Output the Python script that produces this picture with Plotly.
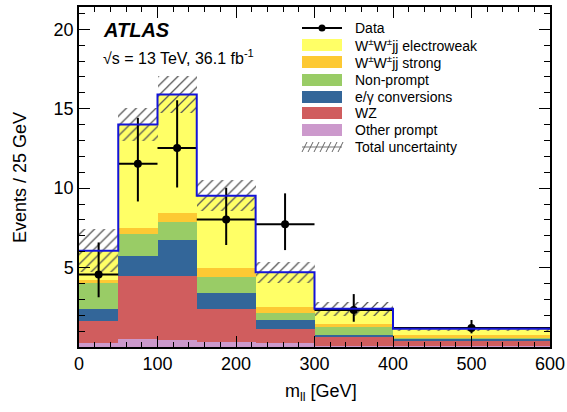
import numpy as np
import plotly.graph_objects as go

# ---- data (Events / 25 GeV) ----
bin_edges = [0, 50, 100, 150, 225, 300, 400, 600]
other_prompt = [0.27, 0.48, 0.44, 0.33, 0.25, 0.08, 0.06]
wz = [1.38, 3.99, 4.03, 2.08, 0.89, 0.53, 0.36]
conversions = [0.72, 1.27, 2.24, 0.97, 0.58, 0.14, 0.06]
non_prompt = [1.63, 1.36, 1.17, 1.04, 0.42, 0.49, 0.13]
wwjj_strong = [0.21, 0.40, 0.57, 0.53, 0.39, 0.21, 0.12]
wwjj_ew = [1.85, 6.50, 7.45, 4.57, 2.17, 0.96, 0.42]
total_unc = [1.36, 1.05, 1.15, 0.98, 0.67, 0.44, 0.12]
data_y = [4.57, 11.53, 12.52, 8.03, 7.72, 2.33, 1.19]
data_hi = [6.58, 14.42, 15.53, 10.02, 9.67, 3.33, 1.70]
data_lo = [3.13, 9.16, 10.04, 6.42, 6.10, 1.59, 0.86]

x_ticks = [0, 100, 200, 300, 400, 500, 600]
y_ticks = [5, 10, 15, 20]
x_range = [0, 600]
y_range = [0, 21.4]

layers = [
    ("Other prompt", other_prompt, "#cc99cc"),
    ("WZ", wz, "#d05d5e"),
    ("e/γ conversions", conversions, "#336699"),
    ("Non-prompt", non_prompt, "#99cc66"),
    ("W<sup>±</sup>W<sup>±</sup>jj strong", wwjj_strong, "#fdc933"),
    ("W<sup>±</sup>W<sup>±</sup>jj electroweak", wwjj_ew, "#ffff66"),
]

edges = np.array(bin_edges, dtype=float)
centers = 0.5 * (edges[:-1] + edges[1:])
widths = np.diff(edges)

FONT = "Liberation Sans, Arial, Helvetica, sans-serif"
fig = go.Figure()

base = np.zeros(len(centers))
for name, vals, col in layers:
    v = np.array(vals)
    fig.add_trace(go.Bar(x=centers, y=v, base=base.copy(), width=widths,
                         marker=dict(color=col, line=dict(width=0)),
                         showlegend=False, hoverinfo="skip"))
    base = base + v
total = base

unc = np.array(total_unc)
fig.add_trace(go.Bar(x=centers, y=2 * unc, base=total - unc, width=widths,
                     marker=dict(color="rgba(0,0,0,0)", line=dict(width=0),
                                 pattern=dict(shape="/", size=7, solidity=0.18,
                                              fgcolor="#555555",
                                              bgcolor="rgba(0,0,0,0)",
                                              fillmode="replace")),
                     showlegend=False, hoverinfo="skip"))

# total (blue outline) drawn on the mirrored axes pair so top/right ticks exist
fig.add_trace(go.Scatter(x=edges, y=list(total) + [total[-1]], mode="lines",
                         xaxis="x2", yaxis="y2",
                         line=dict(color="#1414d8", width=2, shape="hv"),
                         showlegend=False, hoverinfo="skip"))

dy = np.array(data_y)
fig.add_trace(go.Scatter(
    x=centers, y=dy, mode="markers",
    marker=dict(color="black", size=8),
    error_y=dict(type="data", symmetric=False,
                 array=np.array(data_hi) - dy, arrayminus=dy - np.array(data_lo),
                 color="black", thickness=2, width=0),
    error_x=dict(type="data", array=widths / 2, color="black", thickness=2, width=0),
    showlegend=False, hoverinfo="skip"))

# ---- layout geometry (pixels) ----
W, H = 567, 412
L, R, T, B = 79, 550, 7, 347

def px(x):
    return (x - L) / (R - L)

def py(y):
    return (B - y) / (B - T)

shapes = []
annotations = []

# legend
leg_x0, leg_x1, leg_tx = 302, 342, 353
rows = [28, 45, 62, 80, 97, 113, 130, 147]
shapes.append(dict(type="line", xref="paper", yref="paper",
                   x0=px(leg_x0), x1=px(leg_x1), y0=py(rows[0]), y1=py(rows[0]),
                   line=dict(color="black", width=2)))
shapes.append(dict(type="circle", xref="paper", yref="paper",
                   x0=px(322 - 3.5), x1=px(322 + 3.5), y0=py(rows[0] + 3.5), y1=py(rows[0] - 3.5),
                   fillcolor="black", line=dict(color="black", width=0)))
annotations.append(dict(text="Data", x=px(leg_tx), y=py(rows[0]), xref="paper", yref="paper",
                        xanchor="left", yanchor="middle", showarrow=False,
                        font=dict(size=14, color="black", family=FONT)))
for i, (name, vals, col) in enumerate(reversed(layers)):
    yy = rows[i + 1]
    shapes.append(dict(type="rect", xref="paper", yref="paper",
                       x0=px(leg_x0), x1=px(leg_x1), y0=py(yy + 6), y1=py(yy - 6),
                       fillcolor=col, line=dict(width=0)))
    annotations.append(dict(text=name, x=px(leg_tx), y=py(yy), xref="paper", yref="paper",
                            xanchor="left", yanchor="middle", showarrow=False,
                            font=dict(size=14, color="black", family=FONT)))
yy = rows[-1]
shapes.append(dict(type="line", xref="paper", yref="paper",
                   x0=px(leg_x0), x1=px(leg_x1), y0=py(yy), y1=py(yy),
                   line=dict(color="#777777", width=1.2)))
for xs in range(leg_x0, leg_x1 - 3, 6):
    shapes.append(dict(type="line", xref="paper", yref="paper",
                       x0=px(xs), x1=px(xs + 5), y0=py(yy + 5), y1=py(yy - 5),
                       line=dict(color="#666666", width=1)))
annotations.append(dict(text="Total uncertainty", x=px(leg_tx), y=py(yy), xref="paper", yref="paper",
                        xanchor="left", yanchor="middle", showarrow=False,
                        font=dict(size=14, color="black", family=FONT)))

# ATLAS labels
annotations.append(dict(text="<b><i>ATLAS</i></b>", x=px(101), y=py(30), xref="paper", yref="paper",
                        xanchor="left", yanchor="middle", showarrow=False,
                        font=dict(size=20, color="black", family=FONT)))
annotations.append(dict(text="√s = 13 TeV, 36.1 fb<sup>-1</sup>", x=px(101), y=py(57),
                        xref="paper", yref="paper", xanchor="left", yanchor="middle",
                        showarrow=False, font=dict(size=16, color="black", family=FONT)))
# axis titles
annotations.append(dict(text="m<sub>ll</sub> [GeV]", x=px(321), y=py(392), xref="paper", yref="paper",
                        xanchor="center", yanchor="middle", showarrow=False,
                        font=dict(size=18, color="black", family=FONT)))
annotations.append(dict(text="Events / 25 GeV", x=px(20), y=py(178), xref="paper", yref="paper",
                        xanchor="center", yanchor="middle", textangle=-90, showarrow=False,
                        font=dict(size=18, color="black", family=FONT)))

axis_common = dict(showline=True, linecolor="black", linewidth=1.5,
                   ticks="inside", tickcolor="black", tickwidth=1, ticklen=11,
                   showgrid=False, zeroline=False, automargin=False,
                   tickfont=dict(size=18, color="black", family=FONT))
xminor = dict(dtick=20, ticks="inside", ticklen=5, tickcolor="black", tickwidth=1)
yminor = dict(dtick=1, ticks="inside", ticklen=6, tickcolor="black", tickwidth=1)

fig.update_layout(
    width=W, height=H,
    margin=dict(l=L, r=W - R, t=T, b=H - B, autoexpand=False),
    paper_bgcolor="white", plot_bgcolor="white",
    barmode="overlay", bargap=0,
    showlegend=False,
    xaxis=dict(range=x_range, tickvals=x_ticks, ticktext=[str(v) for v in x_ticks],
               minor=xminor, **axis_common),
    yaxis=dict(range=y_range, tickvals=y_ticks, ticktext=[str(v) for v in y_ticks],
               minor=yminor, **axis_common),
    xaxis2=dict(range=x_range, tickvals=x_ticks, overlaying="x", side="top", anchor="y2",
                showticklabels=False, minor=xminor, **axis_common),
    yaxis2=dict(range=y_range, tickvals=y_ticks, overlaying="y", side="right", anchor="x2",
                showticklabels=False, minor=yminor, **axis_common),
    shapes=shapes, annotations=annotations,
)

fig.write_html("out.html", config={"displayModeBar": False},
               post_script="document.body.style.margin='0';document.body.style.padding='0';")
